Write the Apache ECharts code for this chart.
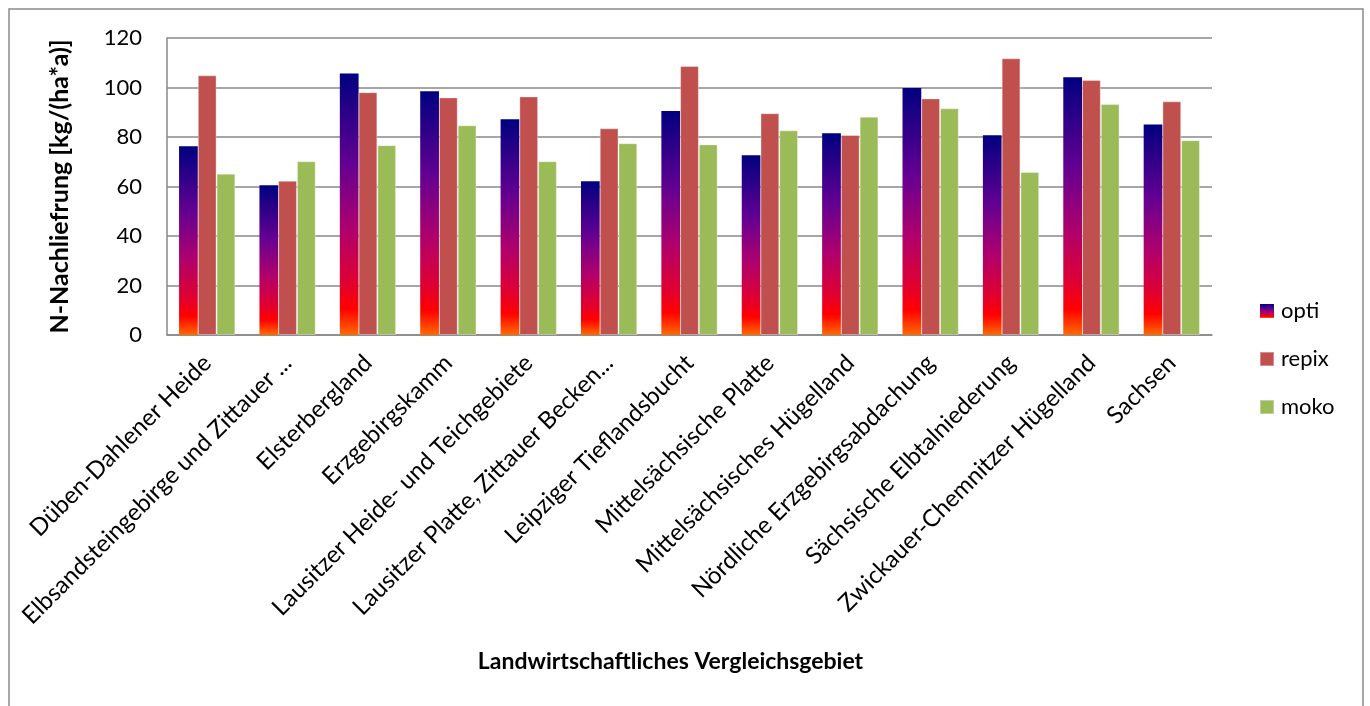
<!DOCTYPE html>
<html>
<head>
<meta charset="utf-8">
<script src="https://cdn.jsdelivr.net/npm/echarts@6/dist/echarts.min.js"></script>
<style>
html,body{margin:0;padding:0;background:#fff;}
#c{width:1370px;height:706px;}
</style>
</head>
<body>
<div id="c"></div>
<script>
var categories = [
  "Düben-Dahlener Heide",
  "Elbsandsteingebirge und Zittauer ...",
  "Elsterbergland",
  "Erzgebirgskamm",
  "Lausitzer Heide- und Teichgebiete",
  "Lausitzer Platte, Zittauer Becken...",
  "Leipziger Tieflandsbucht",
  "Mittelsächsische Platte",
  "Mittelsächsisches Hügelland",
  "Nördliche Erzgebirgsabdachung",
  "Sächsische Elbtalniederung",
  "Zwickauer-Chemnitzer Hügelland",
  "Sachsen"
];
var opti  = [76.3, 60.5, 105.7, 98.5, 87.2, 62.1, 90.5, 72.6, 81.5, 99.8, 80.7, 104.1, 85.1];
var repix = [104.9, 62.3, 98.1, 96.0, 96.4, 83.5, 108.7, 89.6, 80.8, 95.6, 111.8, 103.0, 94.4];
var moko  = [65.2, 70.2, 76.7, 84.7, 70.2, 77.5, 77.0, 82.7, 88.2, 91.6, 65.9, 93.3, 78.7];
var yTicks = [0, 20, 40, 60, 80, 100, 120];

var FONT = 'Lato, "Open Sans", sans-serif';
var optiGrad = new echarts.graphic.LinearGradient(0, 0, 0, 1, [
  {offset: 0, color: '#000080'},
  {offset: 0.35, color: '#640092'},
  {offset: 0.6, color: '#b0006c'},
  {offset: 0.8, color: '#e00030'},
  {offset: 0.9, color: '#ff0000'},
  {offset: 1, color: '#ff6a00'}
]);

var chart = echarts.init(document.getElementById('c'), null, {renderer: 'canvas'});
chart.setOption({
  animation: false,
  backgroundColor: '#fff',
  textStyle: {fontFamily: FONT},
  graphic: [{
    type: 'rect', shape: {x: 9, y: 9, width: 1354, height: 710},
    style: {fill: 'none', stroke: '#8a8a8a', lineWidth: 1.5}, silent: true
  }],
  grid: {left: 167, right: 158, top: 38, bottom: 371, containLabel: false},
  legend: {
    orient: 'vertical', left: 1254, top: 295,
    itemWidth: 14, itemHeight: 14, itemGap: 26,
    icon: 'rect',
    textStyle: {fontSize: 22, color: '#000', fontFamily: FONT, padding: [0, 0, 0, 2]},
    data: ['opti', 'repix', 'moko']
  },
  xAxis: {
    type: 'category', data: categories,
    axisLine: {lineStyle: {color: '#888', width: 1.5}},
    axisTick: {show: false},
    axisLabel: {rotate: 45, interval: 0, fontSize: 24, color: '#000', margin: 24, fontFamily: FONT},
    name: 'Landwirtschaftliches Vergleichsgebiet',
    nameLocation: 'middle', nameGap: 315,
    nameTextStyle: {fontSize: 23, fontWeight: 'bold', color: '#000', fontFamily: FONT, padding: [0, 38, 0, 0]}
  },
  yAxis: {
    type: 'value', min: 0, max: 120, interval: 20,
    axisLine: {show: true, lineStyle: {color: '#888', width: 1.5}},
    axisTick: {show: false},
    splitLine: {lineStyle: {color: '#888', width: 1.5}},
    axisLabel: {fontSize: 22, color: '#000', margin: 25, fontFamily: FONT,
      formatter: function (v) { return yTicks.indexOf(v) >= 0 ? String(v) : ''; }},
    name: 'N-Nachliefrung [kg/(ha*a)]',
    nameLocation: 'middle', nameGap: 95, nameRotate: 90,
    nameTextStyle: {fontSize: 25, fontWeight: 'bold', color: '#000', fontFamily: FONT}
  },
  series: [
    {name: 'opti', type: 'bar', data: opti, barGap: '0%', barCategoryGap: '30%',
     itemStyle: {color: optiGrad}},
    {name: 'repix', type: 'bar', data: repix,
     itemStyle: {color: '#C0504D', borderColor: 'rgba(255,255,255,0.35)', borderWidth: 1}},
    {name: 'moko', type: 'bar', data: moko,
     itemStyle: {color: '#9BBB59', borderColor: 'rgba(255,255,255,0.35)', borderWidth: 1}}
  ]
});
</script>
</body>
</html>
